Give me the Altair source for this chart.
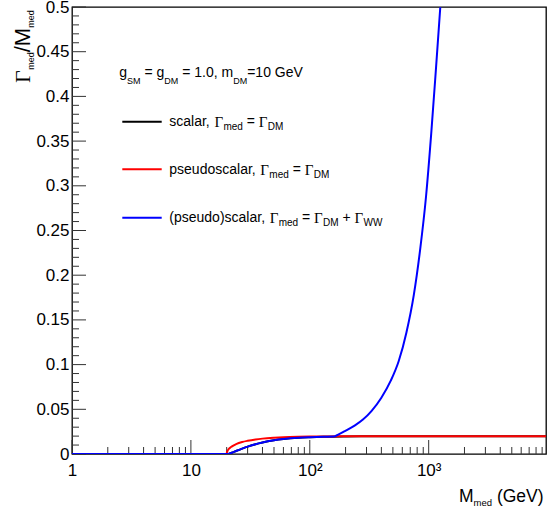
import altair as alt
import pandas as pd

# ---------------- data ----------------
scalar_m = [1, 10, 20, 22, 24, 27, 30, 35, 40, 50, 60, 80, 100, 130, 160, 200, 300, 1000, 9700]
scalar_w = [0, 0, 0, 0.00144, 0.0034, 0.0060, 0.0082, 0.0110, 0.0129, 0.0153, 0.0167,
            0.0181, 0.0187, 0.0192, 0.0194, 0.0196, 0.0198, 0.0199, 0.0199]

pseudo_m = [1, 10, 20, 20.1, 20.3, 20.6, 21, 22, 24, 27, 30, 35, 40, 50, 60, 80, 100, 150,
            200, 500, 9700]
pseudo_w = [0, 0, 0, 0.0020, 0.0034, 0.0048, 0.0061, 0.0083, 0.0110, 0.0134, 0.0148, 0.0163,
            0.0172, 0.0182, 0.0188, 0.0193, 0.0195, 0.0197, 0.0198, 0.0199, 0.0199]

total_m = [1, 10, 20, 22, 24, 27, 30, 35, 40, 50, 60, 80, 100, 130, 160, 165, 175, 190, 210,
           240, 280, 330, 400, 480, 560, 650, 750, 850, 950, 1050, 1150, 1252]
total_w = [0, 0, 0, 0.00144, 0.0034, 0.0060, 0.0082, 0.0110, 0.0129, 0.0153, 0.0167, 0.0181,
           0.0187, 0.0192, 0.0195, 0.0202, 0.0220, 0.0245, 0.0275, 0.0320, 0.0385, 0.0480,
           0.0630, 0.0820, 0.1040, 0.1360, 0.1780, 0.2300, 0.2880, 0.3580, 0.4300, 0.4997]

x_tick_values = [1, 10, 100, 1000]
x_tick_labels = ["1", "10", "10²", "10³"]
x_minor_values = [2, 3, 4, 5, 6, 7, 8, 9, 20, 30, 40, 50, 60, 70, 80, 90,
                  200, 300, 400, 500, 600, 700, 800, 900,
                  2000, 3000, 4000, 5000, 6000, 7000, 8000, 9000]
y_tick_values = [0, 0.05, 0.1, 0.15, 0.2, 0.25, 0.3, 0.35, 0.4, 0.45, 0.5]
y_tick_labels = ["0", "0.05", "0.1", "0.15", "0.2", "0.25", "0.3", "0.35", "0.4", "0.45", "0.5"]
y_minor_values = [round(i * 0.01, 2) for i in range(1, 50) if i % 5 != 0]

X_DOMAIN = [1, 9700]
Y_DOMAIN = [0, 0.5]

# ---------------- layout ----------------
W, H = 474, 447
SANS = "Liberation Sans"
SERIF = "Liberation Serif"

xscale = alt.Scale(type="log", domain=X_DOMAIN, nice=False)
yscale = alt.Scale(domain=Y_DOMAIN, nice=False, zero=True)


def label_expr(values, labels):
    e = " : ".join(f"datum.value == {v} ? '{l}'" for v, l in zip(values, labels))
    return e + " : ''"


x_axis = alt.Axis(values=x_tick_values, labelExpr=label_expr(x_tick_values, x_tick_labels),
                  ticks=False, tickSize=0, domain=False, grid=False, title=None,
                  labelFont=SANS, labelFontSize=17, labelColor="black", labelPadding=8,
                  labelFlush=False, labelOverlap=False)
y_axis = alt.Axis(values=y_tick_values, labelExpr=label_expr(y_tick_values, y_tick_labels),
                  ticks=False, tickSize=0, domain=False, grid=False, title=None,
                  labelFont=SANS, labelFontSize=17, labelColor="black", labelPadding=3,
                  labelFlush=False, labelOverlap=False)


def curve(ms, ws, color):
    df = pd.DataFrame({"m": ms, "w": ws})
    return alt.Chart(df).mark_line(color=color, strokeWidth=2, interpolate="monotone",
                                   clip=True).encode(
        x=alt.X("m:Q", scale=xscale, axis=x_axis),
        y=alt.Y("w:Q", scale=yscale, axis=y_axis),
    )


def xticks(vals, length):
    return alt.Chart(pd.DataFrame({"v": vals})).mark_rule(color="#333", strokeWidth=1).encode(
        x=alt.X("v:Q", scale=xscale, axis=x_axis),
        y=alt.value(H), y2=alt.value(H - length))


def yticks(vals, length):
    return alt.Chart(pd.DataFrame({"v": vals})).mark_rule(color="#333", strokeWidth=1).encode(
        y=alt.Y("v:Q", scale=yscale, axis=y_axis),
        x=alt.value(0), x2=alt.value(length))


# text with sub-scripts, laid out piece by piece
CW = {' ': 278, '(': 333, ')': 333, '+': 584, ',': 278, '-': 333, '.': 278, '/': 278,
      '=': 584, 'D': 722, 'G': 778, 'M': 833, 'S': 667, 'V': 667, 'W': 944, 'a': 556,
      'c': 500, 'd': 556, 'e': 556, 'g': 556, 'l': 222, 'm': 833, 'o': 556, 'p': 556,
      'r': 333, 's': 500, 'u': 556}
GAMMA_W = 0.6


def width(s, size):
    return sum(CW.get(ch, 556) for ch in s) / 1000.0 * size


def text_layer(text, px, py, size, font, ang):
    return alt.Chart(pd.DataFrame({"t": [text]})).mark_text(
        align="left", baseline="alphabetic", font=font, fontSize=size, angle=ang,
        color="black").encode(x=alt.value(px), y=alt.value(py), text="t:N")


def runs(x0, y0, parts, main, greek, sub, sub_drop, greek_drop=0.0, vertical=False):
    out = []
    adv = 0.0
    for text, kind in parts:
        if kind == "g":
            size, font, drop = greek, SERIF, greek_drop
            w = GAMMA_W * size * len(text)
        elif kind == "s":
            size, font, drop = sub, SANS, sub_drop
            w = width(text, size)
        else:
            size, font, drop = main, SANS, 0.0
            w = width(text, size)
        stripped = text.strip()
        lead = width(text[:len(text) - len(text.lstrip())], size)
        if vertical:
            px, py, ang = x0 + drop, y0 - adv - lead, 270
        else:
            px, py, ang = x0 + adv + lead, y0 + drop, 0
        if stripped:
            out.append(text_layer(stripped, px, py, size, font, ang))
        adv += w
    return out


texts = []
texts += runs(47.3, 69.7, [("g", "m"), ("SM", "s"), (" = g", "m"), ("DM", "s"),
                           (" = 1.0, m", "m"), ("DM", "s"), ("=10 GeV", "m")],
              14, 15, 9, 7)
entries = [
    ("scalar, ", [], "black", 119.2, 114.7),
    ("pseudoscalar, ", [], "red", 166.8, 162.3),
    ("(pseudo)scalar, ", [(" + ", "m"), ("Γ", "g"), ("WW", "s")], "blue", 215.2, 210.7),
]
legend_lines = []
for label, extra, col, base, ly in entries:
    parts = [(label, "m"), ("Γ", "g"), ("med", "s"), (" = ", "m"), ("Γ", "g"), ("DM", "s")] + extra
    texts += runs(97.3, base, parts, 14, 15, 10, 4, 1)
    legend_lines.append(
        alt.Chart(pd.DataFrame({"a": [0]})).mark_rule(color=col, strokeWidth=2).encode(
            x=alt.value(50.3), x2=alt.value(89.7), y=alt.value(ly)))

# axis titles
texts += runs(-42, 76, [("Γ", "g"), ("med", "s"), ("/M", "m"), ("med", "s")],
              22, 22, 9, 3.5, 0, vertical=True)
texts += runs(387, 495.3, [("M", "m"), ("med", "s"), (" (GeV)", "m")], 17.5, 17.5, 9.5, 3.4)

chart = alt.layer(
    xticks(x_tick_values, 14), xticks(x_minor_values, 7),
    yticks(y_tick_values, 14), yticks(y_minor_values, 7),
    curve(scalar_m, scalar_w, "black"),
    curve(pseudo_m, pseudo_w, "red"),
    curve(total_m, total_w, "blue"),
    *legend_lines,
    *texts,
).properties(
    width=W, height=H,
    autosize=alt.AutoSizeParams(type="none"),
    padding={"left": 72, "top": 7, "right": 1, "bottom": 53},
    background="white",
).configure_view(stroke="black", strokeWidth=1.3)

chart.save("out.html", embed_options={"renderer": "svg", "actions": False})
